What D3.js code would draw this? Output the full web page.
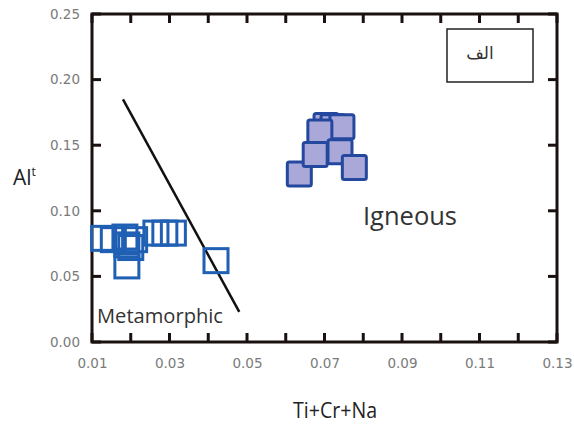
<!DOCTYPE html>
<html lang="en">
<head>
  <meta charset="UTF-8">
  <title>Al vs Ti+Cr+Na</title>
  <script src="https://cdn.jsdelivr.net/npm/d3@7"></script>
  <style>
    body { margin: 0; background: #fff; }
  </style>
</head>
<body>
  <script>
    // metamorphic points (open squares)
    const metaX = [0.0130, 0.0155, 0.0185, 0.0190, 0.0200, 0.0210, 0.0190, 0.0265, 0.0288, 0.0310, 0.0420];
    const metaY = [0.079, 0.078, 0.080, 0.074, 0.072, 0.078, 0.058, 0.083, 0.083, 0.083, 0.062];
    // igneous points (filled squares), drawn back to front
    const ignX = [0.0704, 0.0722, 0.0745, 0.0688, 0.0740, 0.0635, 0.0676, 0.0777];
    const ignY = [0.165, 0.164, 0.164, 0.160, 0.145, 0.128, 0.143, 0.133];
    // discrimination line
    const lineX = [0.018, 0.048];
    const lineY = [0.185, 0.023];
    const xTicks = [0.01, 0.02, 0.03, 0.04, 0.05, 0.06, 0.07, 0.08, 0.09, 0.10, 0.11, 0.12, 0.13];
    const yTicks = [0, 0.05, 0.10, 0.15, 0.20, 0.25];

    const W = 574, H = 424;
    const pL = 92, pR = 557, pT = 14, pB = 342;

    const svg = d3.select('body').append('svg')
      .attr('width', W).attr('height', H);

    const x = d3.scaleLinear().domain([0.01, 0.13]).range([pL, pR]);
    const y = d3.scaleLinear().domain([0, 0.25]).range([pB, pT]);

    const tickFont = 'DejaVu Sans, sans-serif';
    const tl = 9; // inward tick length
    const tw = 3; // tick thickness

    // axes for labels (bottom every other tick)
    const gx = svg.append('g').attr('transform', `translate(0,${pB})`)
      .call(d3.axisBottom(x).tickValues(xTicks).tickSize(0).tickPadding(16)
        .tickFormat(d => Math.round(d * 100) % 2 === 1 ? d3.format('.2f')(d) : ''));
    const gy = svg.append('g').attr('transform', `translate(${pL},0)`)
      .call(d3.axisLeft(y).tickValues(yTicks).tickSize(0).tickPadding(12)
        .tickFormat(d3.format('.2f')));
    [gx, gy].forEach(g => {
      g.select('.domain').remove();
      g.selectAll('.tick text').attr('fill', '#7a7a7a').style('font-family', tickFont).style('font-size', '13.5px');
    });

    // frame
    svg.append('rect')
      .attr('x', pL).attr('y', pT)
      .attr('width', pR - pL).attr('height', pB - pT)
      .attr('fill', 'none').attr('stroke', '#1a1010').attr('stroke-width', 3);

    // inward ticks on all four sides, as filled rects
    const ticks = svg.append('g');
    ticks.selectAll('rect.xb').data(xTicks).join('rect').attr('class', 'xb')
      .attr('x', d => x(d) - tw / 2).attr('y', pB - tl).attr('width', tw).attr('height', tl)
      .style('fill', '#1a1010');
    ticks.selectAll('rect.xt').data(xTicks).join('rect').attr('class', 'xt')
      .attr('x', d => x(d) - tw / 2).attr('y', pT).attr('width', tw).attr('height', tl)
      .style('fill', '#1a1010');
    ticks.selectAll('rect.yl').data(yTicks).join('rect').attr('class', 'yl')
      .attr('x', pL).attr('y', d => y(d) - tw / 2).attr('width', tl).attr('height', tw)
      .style('fill', '#1a1010');
    ticks.selectAll('rect.yr').data(yTicks).join('rect').attr('class', 'yr')
      .attr('x', pR - tl).attr('y', d => y(d) - tw / 2).attr('width', tl).attr('height', tw)
      .style('fill', '#1a1010');

    // boundary line
    svg.append('line')
      .attr('x1', x(lineX[0])).attr('y1', y(lineY[0]))
      .attr('x2', x(lineX[1])).attr('y2', y(lineY[1]))
      .attr('stroke', '#111').attr('stroke-width', 2.5);

    const sz = 24;
    svg.append('g').selectAll('rect')
      .data(metaX.map((d, i) => [d, metaY[i]]))
      .join('rect')
      .attr('x', d => x(d[0]) - sz / 2).attr('y', d => y(d[1]) - sz / 2)
      .attr('width', sz).attr('height', sz)
      .attr('fill', 'none').attr('stroke', '#1f5fb4').attr('stroke-width', 3);

    svg.append('g').selectAll('rect')
      .data(ignX.map((d, i) => [d, ignY[i]]))
      .join('rect')
      .attr('x', d => x(d[0]) - sz / 2).attr('y', d => y(d[1]) - sz / 2)
      .attr('width', sz).attr('height', sz).attr('rx', 2)
      .attr('fill', '#a9a8d8').attr('stroke', '#24489e').attr('stroke-width', 3);

    // region labels
    svg.append('text').attr('x', 97).attr('y', 323)
      .style('font-family', 'Open Sans, sans-serif').style('font-size', '20px').attr('fill', '#333')
      .attr('textLength', 126).attr('lengthAdjust', 'spacingAndGlyphs')
      .text('Metamorphic');
    svg.append('text').attr('x', 363).attr('y', 225)
      .style('font-family', 'Open Sans, sans-serif').style('font-size', '25px').attr('fill', '#333')
      .attr('textLength', 94).attr('lengthAdjust', 'spacingAndGlyphs')
      .text('Igneous');

    // legend box
    svg.append('rect').attr('x', 447).attr('y', 29).attr('width', 86).attr('height', 53)
      .attr('fill', '#fff').attr('stroke', '#222').attr('stroke-width', 1.5);
    svg.append('text').attr('x', 480).attr('y', 59).attr('text-anchor', 'middle')
      .style('font-family', 'DejaVu Sans, sans-serif').style('font-size', '17px')
      .attr('fill', '#333').text('الف');

    // axis titles
    svg.append('text').attr('x', 293).attr('y', 418)
      .style('font-family', 'Open Sans, sans-serif').style('font-size', '22px').attr('fill', '#222')
      .attr('textLength', 84).attr('lengthAdjust', 'spacingAndGlyphs')
      .text('Ti+Cr+Na');
    const yt = svg.append('text').attr('x', 13).attr('y', 185)
      .style('font-family', 'Open Sans, sans-serif').style('font-size', '21px').attr('fill', '#222');
    yt.append('tspan').text('Al');
    yt.append('tspan').attr('dy', -9).style('font-size', '12px').text('t');
  </script>
</body>
</html>
